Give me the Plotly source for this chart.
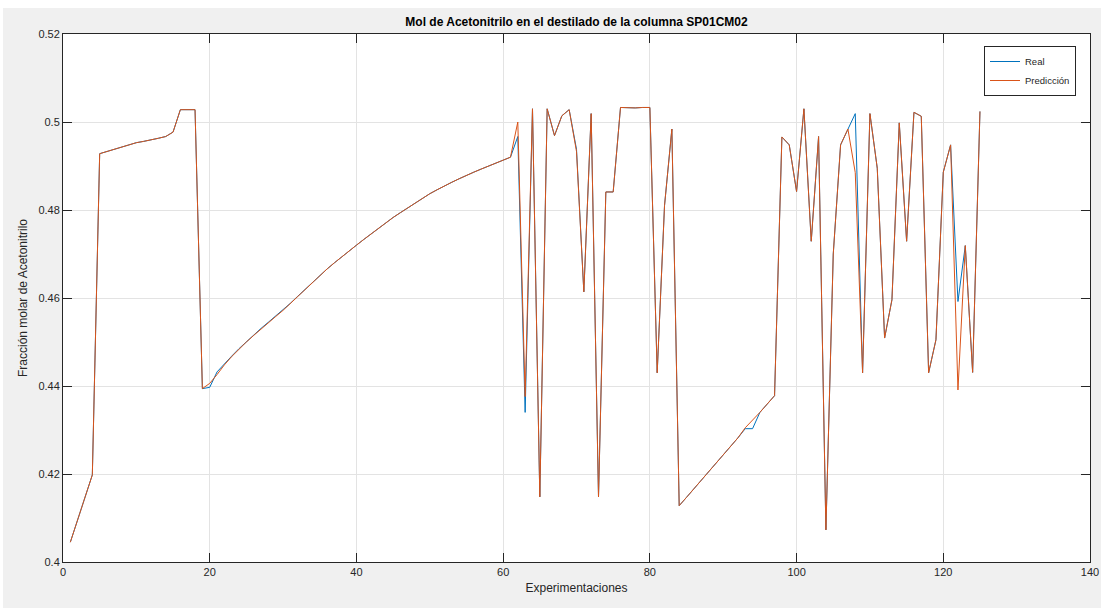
import plotly.graph_objects as go

experimentos = list(range(1, 126))

real = [
    0.4045, 0.4096, 0.4147, 0.4198, 0.4928, 0.4933, 0.4938, 0.4943, 0.4948, 0.4953,
    0.4956, 0.4959, 0.4963, 0.4967, 0.4977, 0.5028, 0.5028, 0.5028, 0.4394, 0.4397,
    0.4432, 0.4451, 0.4468, 0.4485, 0.4501, 0.4516, 0.4531, 0.4545, 0.4559, 0.4572,
    0.4588, 0.4604, 0.4620, 0.4636, 0.4652, 0.4666, 0.4680, 0.4694, 0.4707, 0.4720,
    0.4733, 0.4746, 0.4759, 0.4771, 0.4783, 0.4794, 0.4805, 0.4816, 0.4827, 0.4837,
    0.4846, 0.4855, 0.4863, 0.4871, 0.4879, 0.4886, 0.4893, 0.4900, 0.4907, 0.4913,
    0.4920, 0.4967, 0.4340, 0.5030, 0.4148, 0.5030, 0.4969, 0.5014, 0.5028, 0.4938,
    0.4614, 0.5019, 0.4148, 0.4841, 0.4841, 0.5033, 0.5032, 0.5032, 0.5033, 0.5033,
    0.4430, 0.4810, 0.4984, 0.4128, 0.4147, 0.4166, 0.4185, 0.4205, 0.4224, 0.4243,
    0.4262, 0.4282, 0.4303, 0.4303, 0.4340, 0.4359, 0.4378, 0.4966, 0.4948, 0.4842,
    0.5030, 0.4729, 0.4967, 0.4073, 0.4700, 0.4948, 0.4984, 0.5019, 0.4430, 0.5019,
    0.4895, 0.4509, 0.4596, 0.4998, 0.4729, 0.5022, 0.5013, 0.4430, 0.4505, 0.4886,
    0.4948, 0.4592, 0.4719, 0.4431, 0.5024,
]

prediccion = [
    0.4045, 0.4096, 0.4147, 0.4198, 0.4928, 0.4933, 0.4938, 0.4943, 0.4948, 0.4953,
    0.4956, 0.4959, 0.4963, 0.4967, 0.4977, 0.5028, 0.5028, 0.5028, 0.4394, 0.4406,
    0.4426, 0.4448, 0.4467, 0.4484, 0.4500, 0.4515, 0.4530, 0.4544, 0.4558, 0.4572,
    0.4588, 0.4604, 0.4620, 0.4636, 0.4652, 0.4666, 0.4680, 0.4694, 0.4707, 0.4720,
    0.4733, 0.4746, 0.4759, 0.4771, 0.4783, 0.4794, 0.4805, 0.4816, 0.4827, 0.4837,
    0.4846, 0.4855, 0.4863, 0.4871, 0.4879, 0.4886, 0.4893, 0.4900, 0.4907, 0.4913,
    0.4920, 0.5000, 0.4376, 0.5030, 0.4148, 0.5030, 0.4969, 0.5014, 0.5028, 0.4933,
    0.4614, 0.5019, 0.4148, 0.4841, 0.4841, 0.5033, 0.5032, 0.5032, 0.5033, 0.5033,
    0.4430, 0.4810, 0.4984, 0.4128, 0.4147, 0.4166, 0.4185, 0.4205, 0.4224, 0.4243,
    0.4262, 0.4282, 0.4305, 0.4322, 0.4340, 0.4359, 0.4378, 0.4966, 0.4948, 0.4842,
    0.5030, 0.4729, 0.4967, 0.4073, 0.4700, 0.4948, 0.4984, 0.4885, 0.4430, 0.5019,
    0.4895, 0.4509, 0.4596, 0.4998, 0.4729, 0.5022, 0.5013, 0.4430, 0.4505, 0.4886,
    0.4948, 0.4391, 0.4719, 0.4431, 0.5024,
]

x_ticks = [0, 20, 40, 60, 80, 100, 120, 140]
x_ticktext = ["0", "20", "40", "60", "80", "100", "120", "140"]
y_ticks = [0.40, 0.42, 0.44, 0.46, 0.48, 0.50, 0.52]
y_ticktext = ["0.4", "0.42", "0.44", "0.46", "0.48", "0.5", "0.52"]

titulo = "Mol de Acetonitrilo en el destilado de la columna SP01CM02"
etiqueta_x = "Experimentaciones"
etiqueta_y = "Fracción molar de Acetonitrilo"

FONT = "Liberation Sans, Arial, Helvetica, sans-serif"
AX = "#262626"
GRID = "#e3e3e3"

fig = go.Figure()
fig.add_trace(go.Scatter(x=experimentos, y=real, mode="lines", name="Real",
                         line=dict(color="#0072BD", width=1)))
fig.add_trace(go.Scatter(x=experimentos, y=prediccion, mode="lines", name="Predicción",
                         line=dict(color="#D95319", width=1)))

W, H = 1107, 610
L, R, T, B = 63, 17, 34, 48
pw, ph = W - L - R, H - T - B

# grey figure panel (MATLAB style) and white axes area
fig.add_shape(type="rect", xref="paper", yref="paper", layer="below",
              x0=(3 - L) / pw, x1=(1101 - L) / pw,
              y0=(H - B - 608) / ph, y1=(H - B - 8) / ph,
              fillcolor="#f0f0f0", line=dict(width=0))
fig.add_shape(type="rect", xref="paper", yref="paper", layer="below",
              x0=0, x1=1, y0=0, y1=1, fillcolor="white", line=dict(width=0))

axis_common = dict(
    showline=True, linecolor=AX, linewidth=1, mirror="allticks",
    ticks="inside", ticklen=9, tickwidth=1, tickcolor=AX,
    showgrid=True, gridcolor=GRID, gridwidth=1, zeroline=False,
    tickfont=dict(family=FONT, size=11, color=AX),
)

fig.update_xaxes(range=[0, 140], tickvals=x_ticks, ticktext=x_ticktext,
                 title=dict(text=etiqueta_x, font=dict(family=FONT, size=12, color=AX), standoff=6),
                 **axis_common)
fig.update_yaxes(range=[0.40, 0.52], tickvals=y_ticks, ticktext=y_ticktext,
                 title=dict(text=etiqueta_y, font=dict(family=FONT, size=12, color=AX), standoff=8),
                 **axis_common)

fig.update_layout(
    width=W, height=H,
    margin=dict(l=L, r=R, t=T, b=B, autoexpand=False),
    paper_bgcolor="white", plot_bgcolor="white",
    title=dict(text="<b>" + titulo + "</b>", x=(L + pw / 2) / W, xanchor="center",
               y=1 - 22 / H, yanchor="middle", yref="container",
               font=dict(family=FONT, size=12, color="black")),
    legend=dict(x=(1076 - L) / pw, xanchor="right", y=(H - B - 46) / ph, yanchor="top",
                bgcolor="white", bordercolor=AX, borderwidth=1,
                font=dict(family=FONT, size=9.5, color=AX),
                tracegroupgap=0, itemwidth=30, entrywidth=68, entrywidthmode="pixels"),
    showlegend=True,
)

fig.write_html("out.html", config={"displayModeBar": False},
               post_script="document.body.style.margin='0';")
